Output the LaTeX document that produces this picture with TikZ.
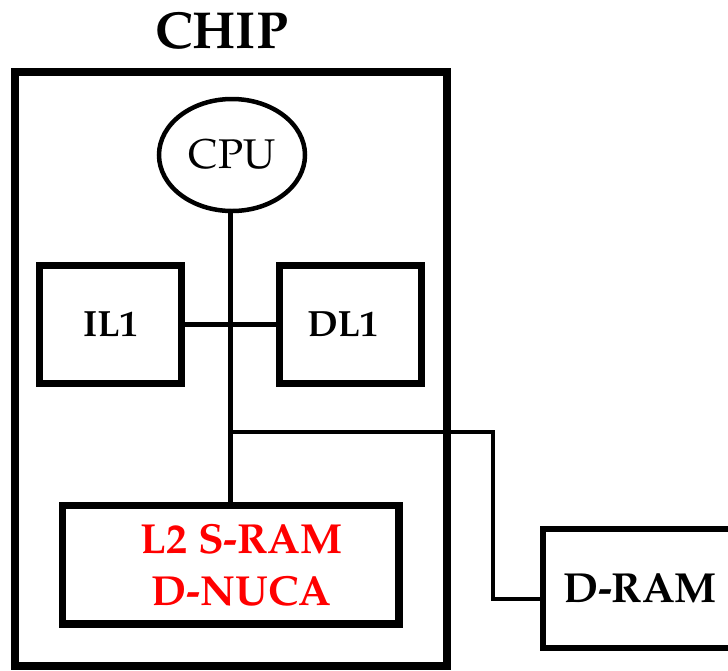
\documentclass[tikz,border=0pt]{standalone}
\usepackage[T1]{fontenc}
\usepackage{mathpazo}
\usepackage{xcolor}
\usetikzlibrary{shapes.geometric,positioning,calc}
\tikzset{
  chipbox/.style = {draw, rectangle, line width=8pt, inner sep=0pt,
                    minimum width=432pt, minimum height=594pt},
  blk/.style     = {draw, rectangle, line width=7pt, align=center, inner sep=0pt,
                    font=\fontsize{36.5}{40}\selectfont\bfseries},
  bigblk/.style  = {blk, line width=7.5pt},
  redtxt/.style  = {align=center, inner sep=0pt, text=red,
                    font=\fontsize{42}{52}\selectfont\bfseries},
  cpuell/.style  = {draw, ellipse, line width=4.5pt, inner sep=0pt,
                    font=\fontsize{41.5}{44}\selectfont},
  io/.style      = {font=\fontsize{52}{54}\selectfont\bfseries, inner sep=0pt},
  bus/.style     = {line width=4.5pt}
}
\begin{document}
\begin{tikzpicture}[x=1pt, y=-1pt]
\useasboundingbox (0,0) rectangle (728,670);
\clip (0,0) rectangle (728,670);

% ---------- chip outline ----------
\node[chipbox] (chip) at (230.5,369) {};
\node[io, anchor=base] (chiplbl) at (221.5,48) {CHIP};

% ---------- processor and L1 caches ----------
\node[cpuell, minimum width=146pt, minimum height=112pt] (cpu) at (232,155) {CPU};
\node[blk, minimum width=142pt, minimum height=118pt] (il1) at (110.5,324.5) {IL1};
\node[blk, minimum width=142.5pt, minimum height=118pt,
      label={[blk, draw=none, xshift=-7.5pt]center:DL1}] (dl1) at (350.25,324.5) {};

% ---------- L2 (on chip) and main memory (off chip) ----------
\node[bigblk, minimum width=336.5pt, minimum height=118.5pt,
      label={[redtxt, xshift=11pt]center:L2 S-RAM\\D-NUCA}] (l2) at (230.75,564.75) {};
\node[blk, line width=6pt, font=\fontsize{42}{44}\selectfont\bfseries,
      minimum width=194pt, minimum height=119.5pt] (dram) at (640,588.25) {D-RAM};

% ---------- buses ----------
\draw[bus] (cpu.south -| 230.5,0) -- (l2.north -| 230.5,0);
\draw[bus] (il1.east) -- (dl1.west);

% tap off the vertical bus towards the off-chip memory
\coordinate (tap) at (230.5,432);
\coordinate (jog) at (493,432);
\draw[bus] (tap) -- (jog) |- (dram.west |- 0,599);

\end{tikzpicture}
\end{document}
